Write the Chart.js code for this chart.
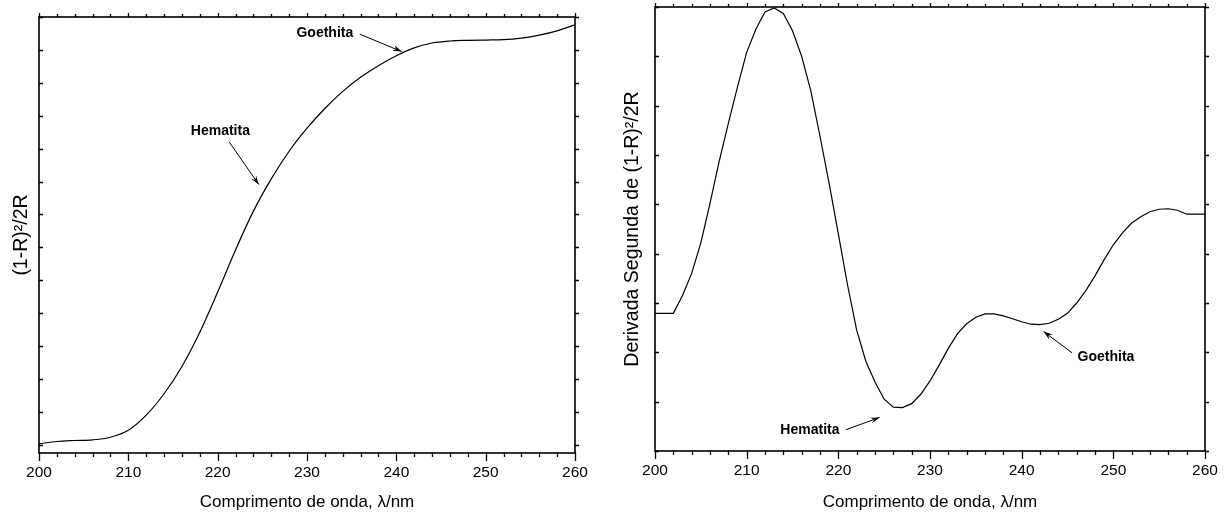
<!DOCTYPE html>
<html lang="pt">
<head>
<meta charset="utf-8">
<title>Espectros de reflectância difusa</title>
<script src="https://cdn.jsdelivr.net/npm/chart.js@4.4.1/dist/chart.umd.min.js"></script>
<style>
  html, body { margin: 0; padding: 0; background: #fff; }
  #wrap { position: relative; width: 1229px; height: 518px; }
  .panel { position: absolute; top: 0; height: 518px; }
  #left-panel { left: 0; width: 610px; }
  #right-panel { left: 610px; width: 619px; }
</style>
</head>
<body>
<div id="wrap">
  <div class="panel" id="left-panel"><canvas id="chart-km" width="610" height="518"></canvas></div>
  <div class="panel" id="right-panel"><canvas id="chart-d2" width="619" height="518"></canvas></div>
</div>
<script>
// Kubelka-Munk function, sampled every 2 nm
const kmWavelengths = [200, 202, 204, 206, 208, 210, 212, 214, 216, 218, 220, 222, 224, 226, 228, 230,
  232, 234, 236, 238, 240, 242, 244, 246, 248, 250, 252, 254, 256, 258, 260];
const kmValues = [0.03, 0.10, 0.13, 0.15, 0.23, 0.44, 0.90, 1.55, 2.38, 3.42, 4.64, 5.92, 7.10, 8.08, 8.92, 9.62,
  10.22, 10.74, 11.17, 11.52, 11.82, 12.06, 12.21, 12.27, 12.29, 12.30, 12.31, 12.36, 12.45, 12.58, 12.76];

// second derivative of the same curve, every 1 nm
const d2Wavelengths = [200, 201, 202, 203, 204, 205, 206, 207, 208, 209, 210, 211, 212, 213, 214, 215,
  216, 217, 218, 219, 220, 221, 222, 223, 224, 225, 226, 227, 228, 229, 230, 231, 232, 233, 234, 235,
  236, 237, 238, 239, 240, 241, 242, 243, 244, 245, 246, 247, 248, 249, 250, 251, 252, 253, 254, 255,
  256, 257, 258, 259, 260];
const d2Values = [2.79, 2.79, 2.79, 3.15, 3.60, 4.22, 5.02, 5.87, 6.64, 7.38, 8.08, 8.55, 8.90, 8.98, 8.87, 8.52,
  8.00, 7.30, 6.38, 5.42, 4.40, 3.37, 2.45, 1.82, 1.40, 1.05, 0.89, 0.88, 0.96, 1.15, 1.42, 1.74, 2.08, 2.38, 2.58, 2.71,
  2.78, 2.78, 2.74, 2.68, 2.62, 2.57, 2.56, 2.59, 2.67, 2.79, 3.00, 3.25, 3.55, 3.88, 4.18, 4.42, 4.62, 4.75, 4.85, 4.90,
  4.91, 4.88, 4.80, 4.80, 4.80];

const xTickValues = [200, 210, 220, 230, 240, 250, 260];
const xMinorStep = 2;
const kmYTicks = [0, 1, 2, 3, 4, 5, 6, 7, 8, 9, 10, 11, 12, 13];
const d2YTicks = [0, 1, 2, 3, 4, 5, 6, 7, 8, 9];

// band labels: text centre, arrow tail and arrow tip in data units (nm, value)
const kmCallouts = [
  { text: 'Goethita', at: [232.0, 12.51], from: [235.9, 12.48], to: [240.6, 11.95] },
  { text: 'Hematita', at: [220.3, 9.53], from: [221.3, 9.20], to: [224.6, 7.91] }
];
const d2Callouts = [
  { text: 'Hematita', at: [216.9, 0.43], from: [220.8, 0.43], to: [224.5, 0.68] },
  { text: 'Goethita', at: [249.2, 1.90], from: [245.5, 1.99], to: [242.4, 2.42] }
];

const FONT = '"Liberation Sans", Arial, Helvetica, sans-serif';

// frame around the plot area plus the tick marks on all four sides
const frameTicks = {
  id: 'frameTicks',
  afterDatasetsDraw(chart) {
    const { ctx, chartArea: a, scales: { x, y } } = chart;
    ctx.save();
    ctx.strokeStyle = '#000';
    ctx.lineWidth = 1.6;
    ctx.strokeRect(a.left, a.top, a.right - a.left, a.bottom - a.top);
    ctx.lineWidth = 1.3;
    ctx.beginPath();
    for (let v = x.min; v <= x.max + 1e-6; v += xMinorStep) {
      const px = Math.round(x.getPixelForValue(v)) + 0.5;
      const major = xTickValues.includes(v);
      ctx.moveTo(px, a.bottom - 1);
      ctx.lineTo(px, a.bottom + (major ? 8 : 4));
      ctx.moveTo(px, a.top);
      ctx.lineTo(px, a.top - (major ? 4 : 3));
    }
    y.ticks.forEach(t => {
      const py = Math.round(y.getPixelForValue(t.value)) + 0.5;
      ctx.moveTo(a.left, py);
      ctx.lineTo(a.left + 4, py);
      ctx.moveTo(a.right, py);
      ctx.lineTo(a.right + 4, py);
    });
    ctx.stroke();
    ctx.restore();
  }
};

function makeCallouts(items) {
  return {
    id: 'callouts',
    afterDraw(chart) {
      const { ctx, scales: { x, y } } = chart;
      ctx.save();
      ctx.fillStyle = '#000';
      ctx.strokeStyle = '#000';
      ctx.lineWidth = 1;
      ctx.font = 'bold 14px ' + FONT;
      ctx.textAlign = 'center';
      ctx.textBaseline = 'middle';
      items.forEach(item => {
        ctx.fillText(item.text, x.getPixelForValue(item.at[0]), y.getPixelForValue(item.at[1]));
        const x0 = x.getPixelForValue(item.from[0]), y0 = y.getPixelForValue(item.from[1]);
        const x1 = x.getPixelForValue(item.to[0]), y1 = y.getPixelForValue(item.to[1]);
        ctx.beginPath();
        ctx.moveTo(x0, y0);
        ctx.lineTo(x1, y1);
        ctx.stroke();
        // arrow head
        const ang = Math.atan2(y1 - y0, x1 - x0);
        const len = 9, half = 3;
        const bx = x1 - len * Math.cos(ang), by = y1 - len * Math.sin(ang);
        ctx.beginPath();
        ctx.moveTo(x1, y1);
        ctx.lineTo(bx + half * Math.sin(ang), by - half * Math.cos(ang));
        ctx.lineTo(bx + 0.35 * len * Math.cos(ang), by + 0.35 * len * Math.sin(ang));
        ctx.lineTo(bx - half * Math.sin(ang), by + half * Math.cos(ang));
        ctx.closePath();
        ctx.fill();
      });
      ctx.restore();
    }
  };
}

function buildChart(canvasId, opts) {
  const points = opts.xs.map((w, i) => ({ x: w, y: opts.ys[i] }));
  return new Chart(document.getElementById(canvasId), {
    type: 'line',
    data: {
      datasets: [{
        data: points,
        borderColor: '#000',
        borderWidth: 1.2,
        pointRadius: 0,
        fill: false,
        tension: opts.tension,
        cubicInterpolationMode: opts.cubic ? 'monotone' : 'default'
      }]
    },
    options: {
      responsive: false,
      animation: false,
      devicePixelRatio: 1,
      layout: { padding: opts.padding },
      plugins: { legend: { display: false }, tooltip: { enabled: false } },
      scales: {
        x: {
          type: 'linear',
          min: 200,
          max: 260,
          afterBuildTicks: s => { s.ticks = xTickValues.map(v => ({ value: v })); },
          ticks: { font: { family: FONT, size: 15.5 }, color: '#000', padding: 10, maxRotation: 0, autoSkip: false },
          grid: { display: false, drawTicks: false },
          border: { display: false },
          title: {
            display: true,
            text: 'Comprimento de onda, λ/nm',
            font: { family: FONT, size: 17 },
            color: '#000',
            padding: 0
          },
          afterFit: s => { s.height = opts.xHeight; s.paddingLeft = 0; s.paddingRight = 0; }
        },
        y: {
          type: 'linear',
          min: opts.yMin,
          max: opts.yMax,
          afterBuildTicks: s => { s.ticks = opts.yTicks.map(v => ({ value: v })); },
          ticks: { display: false },
          grid: { display: false, drawTicks: false },
          border: { display: false },
          title: {
            display: true,
            text: opts.yTitle,
            font: { family: FONT, size: 19.5 },
            color: '#000',
            padding: 0
          },
          afterFit: s => { s.width = opts.yWidth; }
        }
      }
    },
    plugins: [frameTicks, makeCallouts(opts.callouts)]
  });
}

buildChart('chart-km', {
  xs: kmWavelengths, ys: kmValues, tension: 0.4, cubic: true,
  yMin: -0.25, yMax: 13, yTicks: kmYTicks,
  yTitle: '(1-R)²/2R',
  padding: { left: 10, right: 35, top: 17, bottom: 5 },
  yWidth: 29, xHeight: 60,
  callouts: kmCallouts
});

buildChart('chart-d2', {
  xs: d2Wavelengths, ys: d2Values, tension: 0, cubic: false,
  yMin: 0, yMax: 9, yTicks: d2YTicks,
  yTitle: 'Derivada Segunda de (1-R)²/2R',
  padding: { left: 11, right: 24, top: 7, bottom: 5 },
  yWidth: 34, xHeight: 62,
  callouts: d2Callouts
});
</script>
</body>
</html>
